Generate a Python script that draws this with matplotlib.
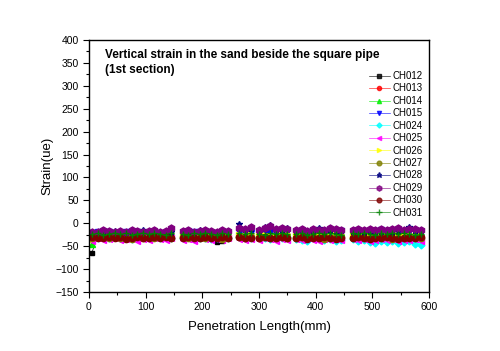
import numpy as np
import matplotlib
matplotlib.use('Agg')
import matplotlib.pyplot as plt
from matplotlib.ticker import MultipleLocator

plt.rcParams['font.family'] = ['Liberation Sans', 'DejaVu Sans']

# penetration length (mm) of the readings, in loading stages
x = [5, 15, 25, 35, 45, 55, 65, 75, 85, 95, 105, 115, 125, 135, 145,
     165, 175, 185, 195, 205, 215, 225, 235, 245,
     265, 275, 285,
     300, 310, 320, 330, 340, 350,
     365, 375, 385, 395, 405, 415, 425, 435, 445,
     465, 475, 485, 495, 505, 515, 525, 535, 545, 555, 565, 575, 585]

ch012 = [-65, -27, -25, -26, -24, -27, -25, -28, -26, -24, -27, -25, -26, -28, -24,
         -27, -25, -28, -26, -30, -33, -40, -38, -30,
         -24, -26, -25,
         -27, -25, -26, -24, -28, -26,
         -27, -25, -24, -26, -28, -25, -27, -26, -24,
         -26, -25, -27, -24, -26, -28, -25, -27, -26, -24, -28, -26, -27]
ch013 = [-30, -32, -28, -26, -29, -27, -30, -28, -31, -27, -29, -26, -30, -28, -27,
         -29, -31, -27, -28, -30, -26, -29, -31, -28,
         -27, -30, -29,
         -28, -31, -27, -30, -29, -28,
         -30, -27, -31, -29, -28, -30, -27, -29, -31,
         -28, -30, -27, -29, -31, -28, -30, -27, -29, -28, -30, -31, -29]
ch014 = [-45, -23, -21, -22, -20, -24, -21, -23, -22, -20, -23, -21, -24, -22, -21,
         -22, -24, -21, -23, -22, -20, -24, -22, -21,
         -20, -22, -23,
         -21, -23, -20, -22, -24, -21,
         -23, -21, -22, -20, -24, -22, -21, -23, -22,
         -21, -23, -20, -22, -24, -21, -22, -20, -23, -21, -22, -24, -23]
ch015 = [-22, -20, -23, -19, -21, -24, -20, -22, -19, -23, -21, -20, -22, -24, -19,
         -21, -23, -20, -22, -19, -24, -21, -20, -23,
         -18, -20, -22,
         -19, -21, -18, -20, -22, -19,
         -20, -17, -19, -21, -18, -16, -20, -18, -17,
         -19, -16, -18, -20, -17, -15, -19, -17, -18, -16, -19, -17, -20]
ch024 = [-28, -31, -29, -33, -30, -32, -29, -34, -31, -30, -33, -29, -32, -30, -31,
         -32, -30, -34, -31, -33, -35, -32, -30, -33,
         -29, -31, -33,
         -30, -32, -34, -31, -33, -30,
         -34, -36, -38, -33, -35, -37, -34, -38, -36,
         -35, -39, -37, -40, -42, -38, -41, -39, -43, -40, -38, -45, -47]
ch025 = [-38, -33, -36, -34, -32, -37, -35, -33, -38, -34, -36, -32, -35, -37, -33,
         -36, -34, -38, -33, -35, -37, -34, -36, -32,
         -35, -37, -34,
         -36, -33, -35, -38, -34, -36,
         -35, -37, -33, -36, -38, -34, -37, -35, -36,
         -34, -37, -35, -38, -36, -34, -37, -35, -38, -36, -37, -35, -38]
ch026 = [-34, -27, -25, -28, -26, -24, -29, -26, -27, -25, -28, -26, -24, -27, -29,
         -26, -28, -25, -27, -29, -26, -24, -28, -27,
         -25, -27, -26,
         -28, -25, -27, -29, -26, -24,
         -27, -25, -28, -26, -24, -27, -29, -25, -26,
         -28, -26, -24, -27, -25, -29, -26, -28, -25, -27, -26, -28, -27]
ch027 = [-32, -30, -28, -31, -29, -33, -30, -35, -28, -31, -29, -32, -30, -28, -31,
         -30, -32, -29, -31, -33, -30, -28, -34, -32,
         -29, -31, -30,
         -32, -29, -31, -33, -30, -32,
         -31, -29, -33, -30, -32, -35, -31, -29, -30,
         -32, -30, -33, -31, -29, -32, -30, -34, -31, -33, -30, -32, -31]
ch028 = [-20, -18, -17, -19, -16, -20, -18, -17, -19, -15, -18, -17, -20, -16, -18,
         -19, -17, -20, -15, -18, -17, -19, -16, -18,
         -2, -12, -10,
         -14, -9, -4, -12, -15, -11,
         -16, -14, -18, -15, -10, -17, -14, -16, -15,
         -17, -15, -18, -14, -16, -17, -15, -18, -16, -14, -8, -15, -17]
ch029 = [-20, -18, -15, -17, -19, -16, -18, -14, -17, -19, -16, -15, -18, -17, -10,
         -17, -15, -18, -16, -14, -17, -19, -15, -16,
         -10, -12, -8,
         -14, -11, -6, -13, -10, -12,
         -15, -13, -16, -12, -14, -15, -11, -13, -14,
         -15, -12, -14, -13, -15, -12, -14, -13, -11, -14, -12, -13, -15]
ch030 = [-30, -33, -31, -29, -32, -30, -34, -31, -29, -33, -31, -30, -32, -29, -31,
         -33, -30, -32, -31, -29, -33, -31, -30, -32,
         -30, -32, -31,
         -33, -30, -32, -31, -29, -33,
         -32, -30, -34, -31, -33, -30, -32, -34, -31,
         -33, -30, -32, -34, -31, -33, -30, -32, -34, -31, -33, -32, -30]
ch031 = [-24, -22, -25, -23, -21, -24, -22, -25, -23, -21, -24, -22, -23, -25, -21,
         -23, -25, -22, -24, -21, -23, -25, -22, -24,
         -22, -24, -21,
         -23, -25, -22, -24, -21, -23,
         -24, -22, -25, -23, -21, -24, -22, -23, -25,
         -22, -24, -21, -23, -25, -22, -24, -21, -23, -22, -24, -25, -23]

names = ['CH012', 'CH013', 'CH014', 'CH015', 'CH024', 'CH025',
         'CH026', 'CH027', 'CH028', 'CH029', 'CH030', 'CH031']
series = [ch012, ch013, ch014, ch015, ch024, ch025,
          ch026, ch027, ch028, ch029, ch030, ch031]
colors = ['black', 'red', '#00ee00', '#0000ff', 'cyan', 'magenta',
          '#ffff00', '#808000', '#000080', '#800080', '#800000', '#008000']
markers = ['s', 'o', '^', 'v', 'D', '<', '>', 'o', '*', 'h', 'o', '+']
sizes = [3.5, 4, 4, 4, 3.5, 4, 4, 4.5, 5, 5, 4.5, 5]

fig = plt.figure(figsize=(5.0, 3.51), dpi=100)
ax = fig.add_axes([0.178, 0.168, 0.68, 0.718])

xa = np.array(x, dtype=float)
# break the connecting line between loading stages
breaks = np.where(np.diff(xa) > 12)[0] + 1
for name, y, c, m, s in zip(names, series, colors, markers, sizes):
    ya = np.array(y, dtype=float)
    first = True
    for xs, ys in zip(np.split(xa, breaks), np.split(ya, breaks)):
        ax.plot(xs, ys, color=c, lw=0.5, marker=m, ms=s, mec=c, mfc=c,
                label=name if first else None)
        first = False

ax.set_xlim(0, 600)
ax.set_ylim(-150, 400)
ax.xaxis.set_major_locator(MultipleLocator(100))
ax.xaxis.set_minor_locator(MultipleLocator(50))
ax.yaxis.set_major_locator(MultipleLocator(50))
ax.yaxis.set_minor_locator(MultipleLocator(25))
ax.tick_params(which='both', direction='out', top=False, right=False, labelsize=7.5)
ax.tick_params(which='major', length=4, width=0.8)
ax.tick_params(which='minor', length=2.5, width=0.8)
for sp in ax.spines.values():
    sp.set_linewidth(1.0)

ax.set_xlabel('Penetration Length(mm)', fontsize=9.5, labelpad=6)
ax.set_ylabel('Strain(ue)', fontsize=9.5, labelpad=1)

ax.text(0.047, 0.965, 'Vertical strain in the sand beside the square pipe\n(1st section)',
        transform=ax.transAxes, fontsize=8.5, fontweight='bold', va='top', ha='left',
        linespacing=1.4)

leg = ax.legend(loc='upper right', bbox_to_anchor=(1.0, 0.9), frameon=False,
                fontsize=7, handlelength=2.2, handletextpad=0.3, markerscale=0.75,
                labelspacing=0.25, borderaxespad=0.2)
for h in leg.legend_handles:
    h.set_alpha(0.8)

fig.savefig('out.png', dpi=100)
